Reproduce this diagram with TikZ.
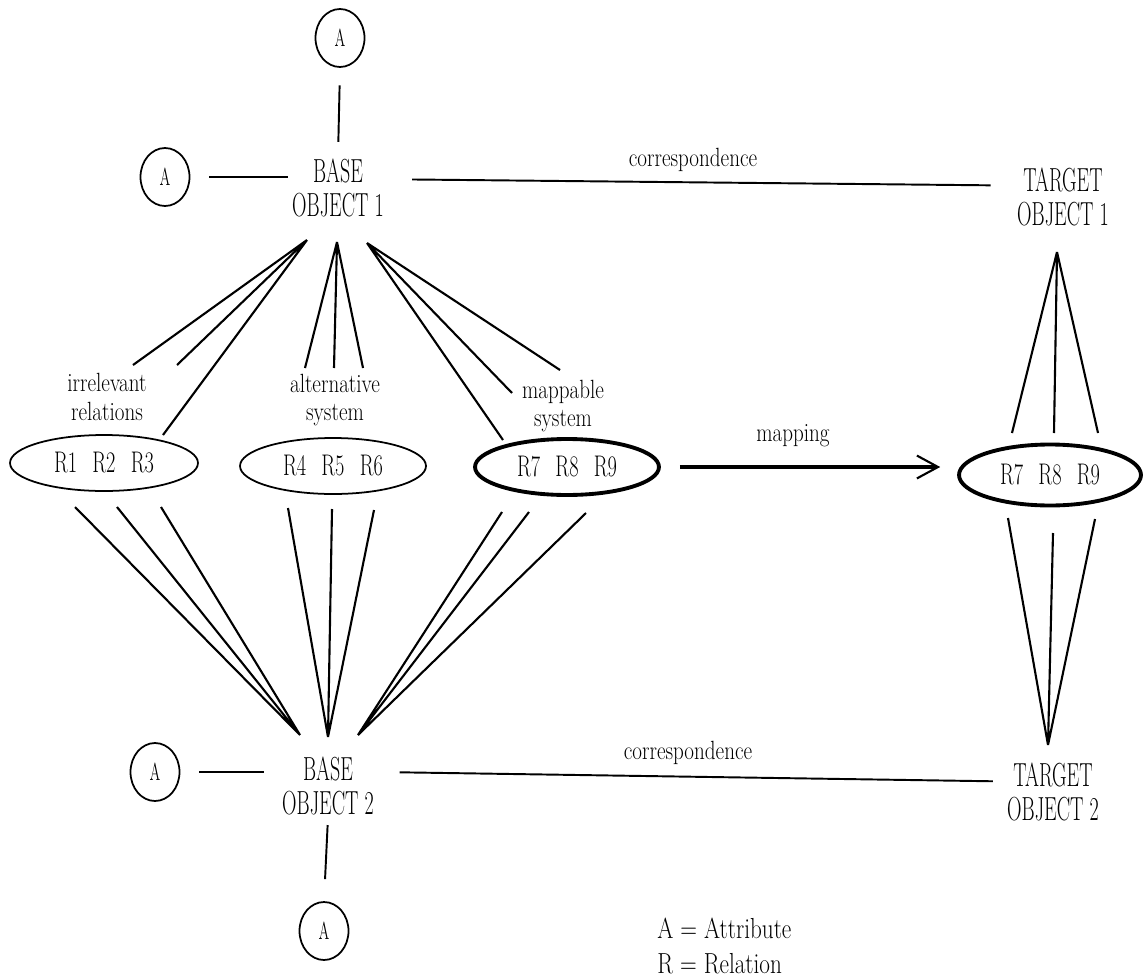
\documentclass[tikz,border=0pt]{standalone}
\usepackage{graphicx}
\usetikzlibrary{shapes.geometric,arrows.meta}

\newcommand{\capt}[1]{\scalebox{.6}[1]{#1}}
\newcommand{\lowt}[1]{\scalebox{.8}[1]{#1}}
\newcommand{\rels}[3]{\scalebox{.68}[1]{#1\hspace{.75em}#2\hspace{.75em}#3}}

\tikzset{
  attr/.style={draw,ellipse,line width=1pt,minimum width=.98cm,minimum height=1.16cm,
    inner sep=0pt,font=\fontsize{14}{15}\selectfont},
  obj/.style={align=center,inner sep=1pt,font=\fontsize{19}{19.3}\selectfont},
  rel/.style={draw,ellipse,line width=1pt,inner sep=0pt,minimum height=1.12cm,
    font=\fontsize{17}{18}\selectfont},
  mapped/.style={rel,line width=2.2pt},
  lab/.style={align=center,inner sep=0pt,font=\fontsize{15}{16}\selectfont},
  fan/.style={line width=1.2pt},
  link/.style={line width=1.1pt},
}

\begin{document}
\begin{tikzpicture}[x=0.02cm,y=-0.02cm]
  \useasboundingbox (0,0) rectangle (1146,977);

  % base and target objects
  \node[obj] (b1) at (338,188) {\capt{BASE}\\\capt{OBJECT 1}};
  \node[obj] (b2) at (328,786) {\capt{BASE}\\\capt{OBJECT 2}};
  \node[obj] (t1) at (1063,197) {\capt{TARGET}\\\capt{OBJECT 1}};
  \node[obj] (t2) at (1053,792) {\capt{TARGET}\\\capt{OBJECT 2}};

  % attributes
  \node[attr] (a1) at (340,38)  {\capt{A}};
  \node[attr] (a2) at (165,177) {\capt{A}};
  \node[attr] (a3) at (155,772) {\capt{A}};
  \node[attr] (a4) at (324,931) {\capt{A}};

  % relations
  \node[rel,minimum width=3.76cm]    (r1) at (104,463)  {\rels{R1}{R2}{R3}};
  \node[rel,minimum width=3.72cm]    (r2) at (333,466)  {\rels{R4}{R5}{R6}};
  \node[mapped,minimum width=3.68cm] (r3) at (567,467)  {\rels{R7}{R8}{R9}};
  \node[mapped,minimum width=3.64cm,minimum height=1.22cm] (r4) at (1050,475) {\rels{R7}{R8}{R9}};

  % labels
  \node[lab] (irr) at (107,397) {\lowt{irrelevant}\\\lowt{relations}};
  \node[lab] (alt) at (335,400) {\lowt{alternative}\\\lowt{system}};
  \node[lab] (map) at (563,406) {\lowt{mappable}\\\lowt{system}};
  \node[lab] (mpg) at (793,436) {\lowt{mapping}};
  \node[lab] (cr1) at (693,160) {\lowt{correspondence}};
  \node[lab] (cr2) at (688,753) {\lowt{correspondence}};
  \node[align=left,inner sep=0pt,anchor=north west,font=\fontsize{16.5}{19.8}\selectfont]
    (key) at (657,918) {\lowt{A = Attribute}\\\lowt{R = Relation}};

  % fan points
  \coordinate (u1) at (307,240);
  \coordinate (u2) at (337,242);
  \coordinate (u3) at (367,243);
  \coordinate (u4) at (1057,252);
  \coordinate (d1) at (300,735);
  \coordinate (d2) at (328,737);
  \coordinate (d3) at (358,735);
  \coordinate (d4) at (1048,745);
  \coordinate (ir1) at (133,365);
  \coordinate (ir2) at (177,365);
  \coordinate (ir3) at (163,435);
  \coordinate (al1) at (305,368);
  \coordinate (al2) at (334,368);
  \coordinate (al3) at (363,368);
  \coordinate (mp1) at (503,440);
  \coordinate (mp2) at (512,393);
  \coordinate (mp3) at (560,370);
  \coordinate (tg1) at (1012,433);
  \coordinate (tg2) at (1054,433);
  \coordinate (tg3) at (1098,433);
  \coordinate (lo1) at (75,507);
  \coordinate (lo2) at (117,507);
  \coordinate (lo3) at (161,507);
  \coordinate (lo4) at (288,508);
  \coordinate (lo5) at (332,509);
  \coordinate (lo6) at (374,510);
  \coordinate (lo7) at (502,512);
  \coordinate (lo8) at (529,512);
  \coordinate (lo9) at (586,513);
  \coordinate (tl1) at (1008,518);
  \coordinate (tl2) at (1053,533);
  \coordinate (tl3) at (1095,519);

  % attribute links
  \draw[link,shorten <=10pt,shorten >=8.5pt] (a1.south) -- (b1.north);
  \draw[link,shorten <=10.8pt,shorten >=1pt] (a2.east) -- (b1.west |- a2.east);
  \draw[link,shorten <=10.8pt,shorten >=9pt] (a3.east) -- (b2.west |- a3.east);
  \draw[link,shorten <=4.5pt,shorten >=12.5pt] (b2.south) -- (a4.north);

  % correspondences
  \draw[link,shorten <=15pt,shorten >=14pt] ([yshift=5pt]b1.east) -- ([yshift=6.5pt]t1.west);
  \draw[link,shorten <=13.5pt,shorten >=7pt] ([yshift=8pt]b2.east) -- ([yshift=6pt]t2.west);

  % fans
  \draw[fan] (u1) -- (ir1) (u1) -- (ir2) (u1) -- (ir3);
  \draw[fan] (u2) -- (al1) (u2) -- (al2) (u2) -- (al3);
  \draw[fan] (u3) -- (mp1) (u3) -- (mp2) (u3) -- (mp3);
  \draw[fan] (u4) -- (tg1) (u4) -- (tg2) (u4) -- (tg3);
  \draw[fan] (d1) -- (lo1) (d1) -- (lo2) (d1) -- (lo3);
  \draw[fan] (d2) -- (lo4) (d2) -- (lo5) (d2) -- (lo6);
  \draw[fan] (d3) -- (lo7) (d3) -- (lo8) (d3) -- (lo9);
  \draw[fan] (d4) -- (tl1) (d4) -- (tl2) (d4) -- (tl3);

  % mapping
  \draw[line width=1.8pt,-{Straight Barb[length=12pt,width=13pt,line width=1.2pt]},
    shorten <=10.8pt,shorten >=9.6pt] (r3.east) -- (r3.east -| r4.west);
\end{tikzpicture}
\end{document}
